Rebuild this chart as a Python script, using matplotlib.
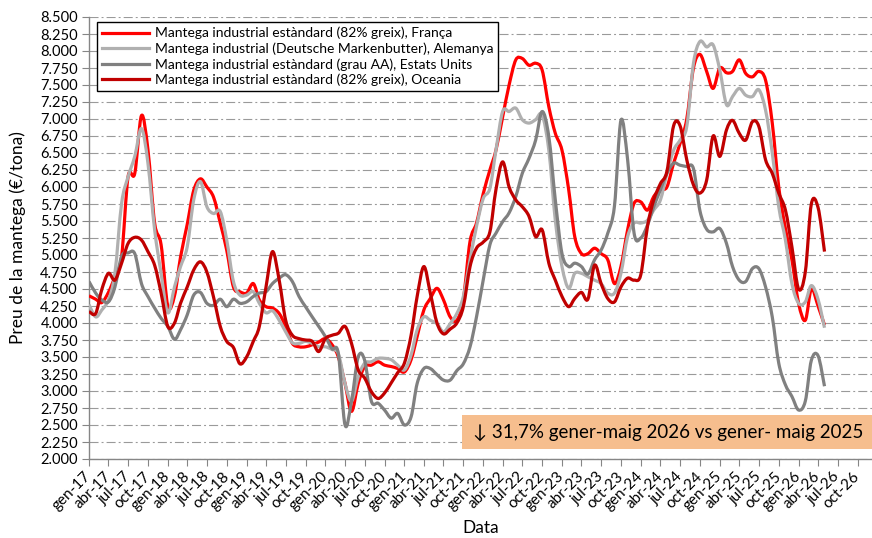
import numpy as np
import pandas as pd
import matplotlib
matplotlib.use("Agg")
import matplotlib.pyplot as plt
import matplotlib.dates as mdates
from matplotlib.path import Path
from matplotlib.patches import PathPatch, Rectangle
from matplotlib.lines import Line2D
from matplotlib.ticker import FuncFormatter

plt.rcParams['font.family'] = ['Lato', 'DejaVu Sans']
plt.rcParams['lines.scale_dashes'] = False

# preus mensuals de la mantega (EUR/tona), gener 2017 - maig 2026
mesos = pd.date_range('2017-01-01', periods=113, freq='MS')

franca = [4400, 4350, 4300, 4450, 4680, 4980, 6150, 6200, 7050, 6550, 5470, 5150, 4250, 4400, 4970, 5450, 5950, 6120, 6000, 5850,
          5470, 5070, 4530, 4460, 4440, 4580, 4340, 4240, 4220, 4140, 3950, 3700, 3650, 3650, 3680, 3720, 3770, 3680, 3500, 3110,
          2700, 3110, 3360, 3380, 3430, 3380, 3360, 3330, 3280, 3460, 3800, 4190, 4360, 4510, 4340, 4090, 4040, 4350, 5200, 5470,
          5900, 6250, 6540, 7030, 7500, 7870, 7890, 7790, 7820, 7720, 7180, 6790, 6540, 5960, 5270, 5020, 5020, 5100, 5020, 4930,
          4580, 4830, 5370, 5760, 5780, 5660, 5860, 5960, 6000, 6350, 6640, 7000, 7750, 7950, 7700, 7450, 7750, 7680, 7700, 7870,
          7670, 7620, 7700, 7570, 6940, 6000, 5390, 4930, 4290, 4040, 4500, 4250, 3970]

alemanya = [4270, 4090, 4190, 4340, 4730, 5760, 6150, 6450, 6860, 6350, 5370, 4730, 4150, 4530, 4830, 5120, 5810, 6080, 5710, 5610,
            5640, 5220, 4610, 4410, 4410, 4460, 4290, 4150, 4180, 4040, 3870, 3710, 3700, 3730, 3700, 3650, 3650, 3610, 3550, 3110,
            2850, 3210, 3410, 3430, 3480, 3480, 3460, 3380, 3310, 3530, 3900, 4090, 4040, 3990, 3870, 3990, 4140, 4390, 4930, 5420,
            5830, 5980, 6540, 7110, 7110, 7160, 6990, 6940, 6990, 7060, 6540, 5510, 4830, 4510, 4730, 4730, 4680, 4630, 4580, 4440,
            4440, 4730, 5270, 5470, 5470, 5510, 5660, 5810, 6200, 6540, 6690, 6890, 7820, 8140, 8060, 8090, 7720, 7210, 7330, 7450,
            7350, 7330, 7430, 7130, 6500, 5710, 5220, 4580, 4290, 4310, 4550, 4350, 3930]

estats_units = [4610, 4440, 4340, 4310, 4530, 4980, 5030, 5020, 4580, 4390, 4220, 4070, 3950, 3760, 3900, 4120, 4410, 4450, 4290, 4260,
                4350, 4240, 4350, 4290, 4310, 4390, 4440, 4460, 4580, 4660, 4710, 4610, 4390, 4240, 4090, 3950, 3800, 3620, 3550, 2500,
                2850, 3500, 3450, 2850, 2820, 2720, 2600, 2670, 2500, 2620, 3110, 3330, 3330, 3240, 3160, 3160, 3300, 3400, 3650, 4090,
                4630, 5150, 5320, 5490, 5620, 5860, 6200, 6420, 6690, 7110, 6740, 5810, 5020, 4830, 4880, 4830, 4720, 4930, 5070, 5320,
                5720, 6980, 6400, 5320, 5250, 5440, 5710, 5960, 6200, 6350, 6320, 6300, 6270, 5650, 5380, 5340, 5390, 5170, 4830, 4630,
                4610, 4800, 4800, 4530, 4090, 3410, 3090, 2920, 2720, 2850, 3450, 3520, 3070]

oceania = [4170, 4140, 4490, 4730, 4630, 4880, 5170, 5260, 5220, 5050, 4850, 4440, 3950, 4000, 4290, 4530, 4780, 4900, 4750, 4380,
           3950, 3730, 3640, 3400, 3500, 3730, 3950, 4530, 5050, 4630, 4040, 3820, 3770, 3750, 3730, 3580, 3770, 3820, 3850, 3950,
           3700, 3310, 3190, 2990, 2890, 2970, 3120, 3270, 3410, 3820, 4390, 4830, 4440, 4000, 3840, 3910, 4000, 4240, 4830, 5100,
           5190, 5340, 5960, 6370, 6000, 5810, 5710, 5570, 5270, 5370, 4880, 4630, 4390, 4240, 4360, 4450, 4350, 4850, 4580, 4360,
           4310, 4530, 4660, 4630, 4710, 5420, 5810, 6050, 6230, 6900, 6900, 6400, 6030, 5910, 6100, 6750, 6450, 6840, 6980, 6790,
           6690, 6960, 6890, 6400, 6200, 5910, 5660, 5120, 4500, 4750, 5750, 5700, 5050]

etiquetes = ["Mantega industrial estàndard (82% greix), França",
             "Mantega industrial (Deutsche Markenbutter), Alemanya",
             "Mantega industrial estàndard (grau AA), Estats Units",
             "Mantega industrial estàndard (82% greix), Oceania"]
colors = ['#FF0000', '#B0B0B0', '#808080', '#C00000']
noms_mes = {1: 'gen', 4: 'abr', 7: 'jul', 10: 'oct'}


# linia suavitzada com la d'Excel (corbes de Bezier)
def corba(ax, x, y, color, z):
    n = len(x)
    verts = [(x[0], y[0])]
    codes = [Path.MOVETO]
    for i in range(n - 1):
        i0 = max(i - 1, 0)
        i3 = min(i + 2, n - 1)
        c1 = (x[i] + (x[i + 1] - x[i0]) / 6, y[i] + (y[i + 1] - y[i0]) / 6)
        c2 = (x[i + 1] - (x[i3] - x[i]) / 6, y[i + 1] - (y[i3] - y[i]) / 6)
        verts += [c1, c2, (x[i + 1], y[i + 1])]
        codes += [Path.CURVE4] * 3
    ax.add_patch(PathPatch(Path(verts, codes), fill=False, edgecolor=color,
                           lw=2.3, zorder=z, joinstyle='round', capstyle='butt'))


fig = plt.figure(figsize=(8.72, 5.38), dpi=100)
ax = fig.add_axes([89 / 872, 79 / 538, 783 / 872, 442 / 538])

x = mdates.date2num(mesos)
series = [franca, alemanya, estats_units, oceania]
for k, s in enumerate(series):
    corba(ax, x, np.array(s, dtype=float), colors[k], 3 + k)

ax.set_xlim(mdates.date2num(pd.Timestamp('2017-01-01')), mdates.date2num(pd.Timestamp('2026-12-07')))
ax.set_ylim(2000, 8500)

ticks = pd.date_range('2017-01-01', '2026-10-01', freq='3MS')
ax.set_xticks(mdates.date2num(ticks))
ax.set_xticklabels(['{}-{}'.format(noms_mes[t.month], str(t.year)[2:]) for t in ticks],
                   rotation=45, ha='right', va='center', rotation_mode='anchor', fontsize=11)
ax.set_yticks(np.arange(2000, 8501, 250))
ax.yaxis.set_major_formatter(FuncFormatter(lambda v, p: '{:,}'.format(int(v)).replace(',', '.')))
ax.tick_params(axis='y', labelsize=10.5, length=5, color='#868686', pad=3)
ax.tick_params(axis='x', length=5, color='#868686', pad=6)

ax.yaxis.grid(True, color='#9a9a9a', lw=0.8, linestyle=(0, (6.5, 2.2, 1.4, 2.2)))
ax.set_axisbelow(True)
for sp in ['top', 'right']:
    ax.spines[sp].set_visible(False)
for sp in ['left', 'bottom']:
    ax.spines[sp].set_color('#868686')
    ax.spines[sp].set_linewidth(1.0)

ax.set_ylabel('Preu de la mantega (€/tona)', fontsize=12.5, va='center')
ax.yaxis.set_label_coords(-71 / 783, 0.5)
ax.set_xlabel('Data', fontsize=12.5, va='center')
ax.xaxis.set_label_coords(0.5, -69 / 442)

handles = [Line2D([], [], color=c, lw=2.3) for c in colors]
leg = ax.legend(handles, etiquetes, loc='upper left', bbox_to_anchor=(97 / 872, 1 - 22 / 538),
                bbox_transform=fig.transFigure, borderaxespad=0, fontsize=10,
                handlelength=3.4, handletextpad=0.4, labelspacing=0.22, borderpad=0.35,
                fancybox=False, framealpha=1, edgecolor='black')
leg.get_frame().set_linewidth(1.0)

# requadre amb la variacio
fig.add_artist(Rectangle((462 / 872, 89 / 538), 420 / 872, 34 / 538, transform=fig.transFigure,
                         facecolor='#F6BE8E', edgecolor='none', zorder=5))
fig.text(668 / 872, 1 - 432 / 538, '↓ 31,7% gener-maig 2026 vs gener- maig 2025',
         ha='center', va='center', fontsize=13.5, zorder=6)

fig.savefig('out.png', dpi=100)
